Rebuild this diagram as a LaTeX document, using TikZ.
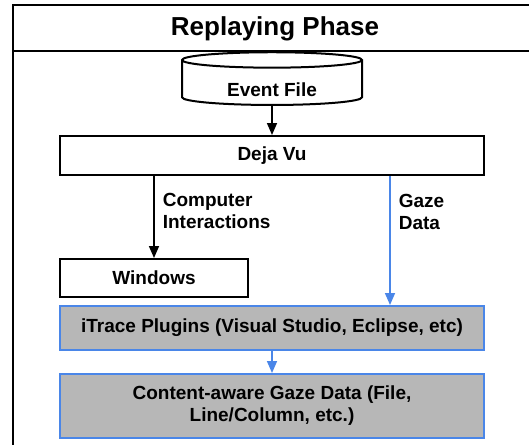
\documentclass[tikz,border=0pt]{standalone}
\usepackage{fontspec}
\setmainfont{Liberation Sans}
\usetikzlibrary{arrows.meta,shapes.geometric}
\definecolor{gazeblue}{HTML}{4A86E8}
\definecolor{plugingray}{HTML}{B7B7B7}
\tikzset{
	boxfont/.style={font=\fontsize{19}{22}\selectfont\bfseries},
	stagebox/.style={draw, line width=2pt, boxfont, inner sep=0pt, align=center},
	gazebox/.style={stagebox, draw=gazeblue, fill=plugingray},
	flow/.style={line width=1.6pt, -{Triangle[width=10,length=12]}},
	gazeflow/.style={flow, draw=gazeblue, color=gazeblue},
	flowlabel/.style={boxfont, inner sep=0pt, anchor=west, align=left, xshift=8}
}

\begin{document}
\begin{tikzpicture}[x=1pt,y=-1pt]
			%%%%% START %%%%%
			
			\clip (0,0) rectangle (529,444);
			
			% frame and title
			\draw[line width=2pt] (13,5) rectangle (545,460);
			\draw[line width=2pt] (13,51) -- (545,51);
			\node[font=\fontsize{26}{30}\selectfont\bfseries] (title) at (275,29) {Replaying Phase};
			
			\node[cylinder, shape border rotate=90, draw, line width=2pt, aspect=0.16,
				minimum width=180, minimum height=48, boxfont, text height=24pt, text depth=0pt] (event) at (272,84) {Event File};
			
			\node[stagebox, minimum width=424, minimum height=39] (dejavu) at (272,155.5) {Deja Vu};
			\node[stagebox, minimum width=188, minimum height=38] (windows) at (154,278) {Windows};
			\node[gazebox, minimum width=424, minimum height=44] (itrace) at (272,328) {iTrace Plugins (Visual Studio, Eclipse, etc)};
			\node[gazebox, minimum width=424, minimum height=64] (content) at (272,406) {Content-aware Gaze Data (File,\\Line/Column, etc.)};
			
			\coordinate (gazex) at (390,0);
			
			\draw[flow] (event.south) -- (dejavu.north);
			\draw[flow] (dejavu.south -| windows.north) -- node[flowlabel, pos=0.43] {Computer\\Interactions} (windows.north);
			\draw[gazeflow] (dejavu.south -| gazex) -- node[flowlabel, pos=0.28, text=black] {Gaze\\Data} (itrace.north -| gazex);
			\draw[gazeflow] (itrace.south) -- (content.north);
			
			%%%%% END %%%%%
\end{tikzpicture}
\end{document}
